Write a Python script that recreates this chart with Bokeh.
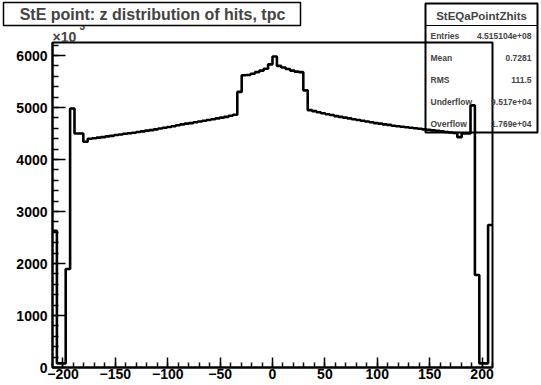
from bokeh.plotting import figure
from bokeh.models import Range1d, FixedTicker, Label, BoxAnnotation
from bokeh.embed import file_html
from bokeh.resources import INLINE
import numpy as np

# ---- data (values in units of 10^3 hits) ----
x_low, x_high = -210, 210
y_max = 6250
counts = [
    2630, 80, 80, 1895, 4980, 4500, 4500, 4340,
    4400, 4410, 4420, 4430, 4445, 4455, 4470, 4480, 4495, 4505,
    4515, 4530, 4540, 4555, 4565, 4580, 4595, 4610, 4625, 4640,
    4660, 4675, 4690, 4700, 4715, 4730, 4745, 4760, 4775, 4790,
    4805, 4820, 4840, 4860,
    5300, 5620, 5625, 5650, 5680, 5710, 5745, 5830, 5980, 5800,
    5770, 5740, 5710, 5690, 5680, 5330, 4950,
    4930, 4910, 4890, 4870, 4855, 4835, 4820, 4805, 4790, 4775,
    4760, 4745, 4730, 4715, 4700, 4690, 4675, 4665, 4650, 4640,
    4630, 4620, 4610, 4600, 4590, 4580, 4570, 4560, 4550, 4540,
    4530, 4520, 4510,
    4430, 4500, 4500, 5040, 1780, 80, 80, 2740,
]
x_ticks = [-200, -150, -100, -50, 0, 50, 100, 150, 200]
y_ticks = [0, 1000, 2000, 3000, 4000, 5000, 6000]
title_text = "StE point: z distribution of hits, tpc"
stats_name = "StEQaPointZhits"
stats_labels = ["Entries", "Mean", "RMS", "Underflow", "Overflow"]
stats_values = ["4.515104e+08", "0.7281", "111.5", "9.517e+04", "1.769e+04"]

FONT = "Liberation Sans"

# layout of the pad (pixels): frame box inside the 541x385 canvas
W, H = 541, 385
FL, FR, FT, FB = 52, 492, 42, 367
sx = (FR - FL) / (x_high - x_low)
sy = (FB - FT) / y_max
xr = Range1d(x_low - FL / sx, x_high + (W - FR) / sx)
yr = Range1d(0 - (H - FB) / sy, y_max + FT / sy)

p = figure(width=W, height=H, output_backend="svg", toolbar_location=None,
           title=None, x_range=xr, y_range=yr,
           min_border=0, min_border_left=0, min_border_right=0,
           min_border_top=0, min_border_bottom=0)
p.background_fill_color = "white"
p.border_fill_color = "white"
p.outline_line_color = None
p.grid.visible = False

# frame box
p.add_layout(BoxAnnotation(left=x_low, right=x_high, bottom=0, top=y_max,
                           fill_alpha=0.0, line_color="black", line_alpha=1.0,
                           line_width=2))

edges = np.linspace(x_low, x_high, len(counts) + 1)
p.step(x=edges, y=counts + [counts[-1]], mode="after", line_color="black", line_width=2.6)

for ax in (p.xaxis[0], p.yaxis[0]):
    ax.axis_line_width = 2
    ax.axis_line_color = "black"
    ax.major_tick_out = 0
    ax.minor_tick_out = 0
    ax.major_tick_line_width = 1.5
    ax.minor_tick_line_width = 1.5
    ax.major_label_text_font = FONT
    ax.major_label_text_font_style = "bold"
    ax.major_label_text_font_size = "14px"
    ax.major_label_text_color = "black"

p.xaxis.fixed_location = 0
p.xaxis.bounds = (x_low, x_high)
p.xaxis.ticker = FixedTicker(ticks=x_ticks, minor_ticks=list(range(x_low, x_high + 1, 10)))
p.xaxis.major_tick_in = 10
p.xaxis.minor_tick_in = 5
p.xaxis.major_label_standoff = 1

p.yaxis.fixed_location = x_low
p.yaxis.bounds = (0, y_max)
p.yaxis.ticker = FixedTicker(ticks=y_ticks, minor_ticks=list(range(0, y_max, 200)))
p.yaxis.major_tick_in = 13
p.yaxis.minor_tick_in = 6
p.yaxis.major_label_standoff = 5

# exponent label above y axis
p.add_layout(Label(x=79, y=21, x_units="canvas", y_units="canvas", text="3",
                   text_font=FONT, text_font_style="bold", text_font_size="10px",
                   text_baseline="top", text_align="left"))
p.add_layout(Label(x=52, y=36, x_units="canvas", y_units="canvas", text="×10",
                   text_font=FONT, text_font_style="bold", text_font_size="14px",
                   text_baseline="middle", text_align="left"))

# title box
p.add_layout(BoxAnnotation(left=3, right=300, top=2, bottom=25,
                           left_units="canvas", right_units="canvas",
                           top_units="canvas", bottom_units="canvas",
                           fill_color="white", fill_alpha=1.0,
                           line_color="black", line_alpha=1.0, line_width=1.5))
p.add_layout(Label(x=152, y=14, x_units="canvas", y_units="canvas", text=title_text,
                   text_font=FONT, text_font_style="bold", text_font_size="16px",
                   text_baseline="middle", text_align="center"))

# stats box
p.add_layout(BoxAnnotation(left=425, right=537, top=3, bottom=132,
                           left_units="canvas", right_units="canvas",
                           top_units="canvas", bottom_units="canvas",
                           fill_alpha=0.0, line_color="black", line_alpha=1.0,
                           line_width=2))
p.add_layout(BoxAnnotation(left=425, right=537, top=25, bottom=25,
                           left_units="canvas", right_units="canvas",
                           top_units="canvas", bottom_units="canvas",
                           fill_alpha=0.0, line_color="black", line_alpha=1.0,
                           line_width=1))
p.add_layout(Label(x=481, y=15, x_units="canvas", y_units="canvas", text=stats_name,
                   text_font=FONT, text_font_style="bold", text_font_size="11.5px",
                   text_baseline="middle", text_align="center"))
for i, (lab, val) in enumerate(zip(stats_labels, stats_values)):
    yy = 35.7 + i * 21.9
    p.add_layout(Label(x=430, y=yy, x_units="canvas", y_units="canvas", text=lab,
                       text_font=FONT, text_font_style="bold", text_font_size="8.5px",
                       text_baseline="middle", text_align="left"))
    p.add_layout(Label(x=531, y=yy, x_units="canvas", y_units="canvas", text=val,
                       text_font=FONT, text_font_style="bold", text_font_size="8.5px",
                       text_baseline="middle", text_align="right"))

open("out.html", "w").write(file_html(p, INLINE))
